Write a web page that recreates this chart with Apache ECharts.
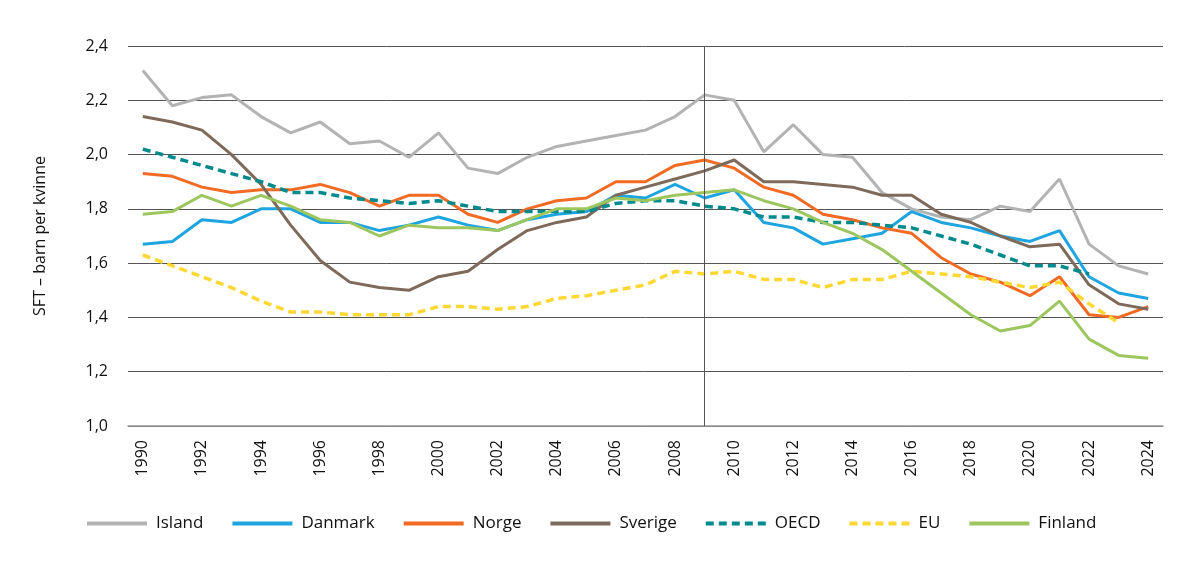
<!DOCTYPE html>
<html>
<head>
<meta charset="utf-8">
<script src="https://cdn.jsdelivr.net/npm/echarts@6/dist/echarts.min.js"></script>
<style>
html,body{margin:0;padding:0;background:#fff;}
#c{width:1198px;height:568px;}
</style>
</head>
<body>
<div id="c"></div>
<script>
var years = [];
for (var y = 1990; y <= 2024; y++) years.push(String(y));

var island  = [2.31,2.18,2.21,2.22,2.14,2.08,2.12,2.04,2.05,1.99,2.08,1.95,1.93,1.99,2.03,2.05,2.07,2.09,2.14,2.22,2.20,2.01,2.11,2.00,1.99,1.86,1.80,1.77,1.76,1.81,1.79,1.91,1.67,1.59,1.56];
var danmark = [1.67,1.68,1.76,1.75,1.80,1.80,1.75,1.75,1.72,1.74,1.77,1.74,1.72,1.76,1.78,1.79,1.85,1.84,1.89,1.84,1.87,1.75,1.73,1.67,1.69,1.71,1.79,1.75,1.73,1.70,1.68,1.72,1.55,1.49,1.47];
var norge   = [1.93,1.92,1.88,1.86,1.87,1.87,1.89,1.86,1.81,1.85,1.85,1.78,1.75,1.80,1.83,1.84,1.90,1.90,1.96,1.98,1.95,1.88,1.85,1.78,1.76,1.73,1.71,1.62,1.56,1.53,1.48,1.55,1.41,1.40,1.44];
var sverige = [2.14,2.12,2.09,2.00,1.89,1.74,1.61,1.53,1.51,1.50,1.55,1.57,1.65,1.72,1.75,1.77,1.85,1.88,1.91,1.94,1.98,1.90,1.90,1.89,1.88,1.85,1.85,1.78,1.75,1.70,1.66,1.67,1.52,1.45,1.43];
var oecd    = [2.02,1.99,1.96,1.93,1.90,1.86,1.86,1.84,1.83,1.82,1.83,1.81,1.79,1.79,1.79,1.79,1.82,1.83,1.83,1.81,1.80,1.77,1.77,1.75,1.75,1.74,1.73,1.70,1.67,1.63,1.59,1.59,1.56,null,null];
var eu      = [1.63,1.59,1.55,1.51,1.46,1.42,1.42,1.41,1.41,1.41,1.44,1.44,1.43,1.44,1.47,1.48,1.50,1.52,1.57,1.56,1.57,1.54,1.54,1.51,1.54,1.54,1.57,1.56,1.55,1.53,1.51,1.53,1.45,1.38,null];
var finland = [1.78,1.79,1.85,1.81,1.85,1.81,1.76,1.75,1.70,1.74,1.73,1.73,1.72,1.76,1.80,1.80,1.84,1.83,1.85,1.86,1.87,1.83,1.80,1.75,1.71,1.65,1.57,1.49,1.41,1.35,1.37,1.46,1.32,1.26,1.25];

var yTicks = [1.0,1.2,1.4,1.6,1.8,2.0,2.2,2.4];
var markYear = '2009';

var FONT = '"Open Sans", "Noto Sans", sans-serif';

function line(name, data, color, dashed) {
  return {
    name: name,
    type: 'line',
    data: data,
    symbol: 'none',
    smooth: false,
    connectNulls: false,
    lineStyle: { color: color, width: dashed ? 3.5 : 3, type: dashed ? [8, 5] : 'solid', cap: 'butt' },
    itemStyle: { color: color },
    emphasis: { disabled: true }
  };
}

var series = [
  line('Island', island, '#b3b3b3', false),
  line('Danmark', danmark, '#1ea5df', false),
  line('Norge', norge, '#f26b25', false),
  line('Sverige', sverige, '#7d6a5a', false),
  line('OECD', oecd, '#008a8e', true),
  line('EU', eu, '#fdd835', true),
  line('Finland', finland, '#9dc75e', false)
];

series[0].markLine = {
  silent: true,
  symbol: 'none',
  label: { show: false },
  lineStyle: { color: '#555', width: 1, type: 'solid' },
  data: [{ xAxis: markYear }]
};

var chart = echarts.init(document.getElementById('c'), null, { renderer: 'canvas' });
chart.setOption({
  animation: false,
  backgroundColor: '#fff',
  textStyle: { fontFamily: FONT },
  grid: { left: 128, right: 35, top: 46, bottom: 142 },
  legend: {
    top: 509,
    left: 80,
    itemWidth: 60,
    itemHeight: 24,
    itemGap: 27,
    itemStyle: { opacity: 0 },
    lineStyle: { width: 4, cap: 'butt' },
    textStyle: { fontSize: 17, color: '#111', fontFamily: FONT, padding: [0, 0, 0, 4] },
    data: ['Island','Danmark','Norge','Sverige','OECD','EU','Finland']
  },
  xAxis: {
    type: 'category',
    data: years,
    boundaryGap: true,
    axisLine: { show: true, lineStyle: { color: '#999', width: 1.5 } },
    axisTick: { show: false },
    axisLabel: { interval: 1, rotate: 90, margin: 14, fontSize: 16, color: '#111', fontFamily: FONT },
    splitLine: { show: false }
  },
  yAxis: {
    type: 'value',
    min: yTicks[0],
    max: yTicks[yTicks.length - 1],
    interval: 0.2,
    name: 'SFT – barn per kvinne',
    nameLocation: 'middle',
    nameGap: 80,
    nameRotate: 90,
    nameTextStyle: { fontSize: 16, color: '#111', fontFamily: FONT },
    axisLine: { show: false },
    axisTick: { show: false },
    axisLabel: {
      margin: 20, fontSize: 16, color: '#111', fontFamily: FONT,
      formatter: function (v) { return v.toFixed(1).replace('.', ','); }
    },
    splitLine: { show: true, lineStyle: { color: '#555', width: 1 } }
  },
  series: series
});
</script>
</body>
</html>
